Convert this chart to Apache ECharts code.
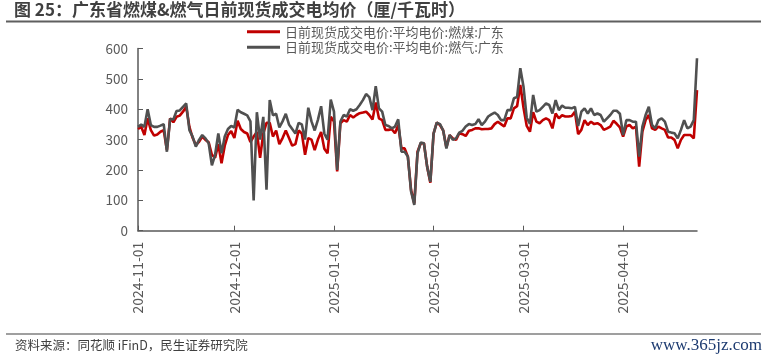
<!DOCTYPE html>
<html><head><meta charset="utf-8">
<script src="https://cdn.jsdelivr.net/npm/echarts@6/dist/echarts.min.js"></script>
<style>html,body{margin:0;padding:0;background:#fff}#c{width:766px;height:364px}</style>
</head><body><div id="c"></div><script>
// ---- data (厘/千瓦时), daily from 2024-11-01 ----
const seriesNames = ['日前现货成交电价:平均电价:燃煤:广东', '日前现货成交电价:平均电价:燃气:广东'];
const tickLabels = ['2024-11-01','2024-12-01','2025-01-01','2025-02-01','2025-03-01','2025-04-01'];

const coalNov = [335,342,315,370,331,313,317,326,331,266,370,357,375,379,392,408,342,306,282,293,310,299,291,250,240,285,222,280,315,328];
const coalDec = [305,362,335,325,320,292,310,325,240,320,355,355,310,330,285,305,330,305,280,285,330,320,250,305,300,265,300,325,270,255,375];
const coalJan = [360,195,354,364,359,381,373,381,387,389,392,381,366,422,370,364,332,332,334,321,348,271,271,244,134,90,260,288,288,211,158];
const coalFeb = [320,356,348,330,274,315,304,299,321,318,312,329,332,337,337,334,335,335,337,351,359,351,343,370,370,403,410,480];
const coalMar = [405,345,326,390,359,354,364,370,364,337,386,370,380,376,376,378,392,318,332,364,348,359,351,354,348,332,337,343,362,352,340];
const coalApr = [310,343,348,337,343,211,326,364,381,337,332,343,337,332,307,307,299,271,299,315,315,315,304,463];

const gasNov = [342,350,342,400,348,342,342,346,351,260,368,366,394,396,408,419,331,310,277,299,315,304,288,215,250,320,255,310,335,345];
const gasDec = [340,398,390,385,380,360,100,390,300,375,135,430,380,385,340,360,385,350,335,320,355,350,300,405,360,330,365,410,320,300,432];
const gasJan = [392,200,359,381,376,400,395,400,414,430,450,440,397,476,403,392,348,345,337,343,367,260,260,244,129,85,255,290,288,211,161];
const gasFeb = [320,356,351,330,271,315,299,304,323,329,343,351,348,351,367,348,359,376,383,389,381,364,364,397,397,436,440,535];
const gasMar = [474,372,352,447,392,397,408,419,414,386,430,397,412,405,405,403,408,345,392,403,386,403,381,386,381,359,370,381,395,395,385];
const gasApr = [315,364,364,359,359,244,343,381,408,348,337,364,370,359,326,323,321,304,332,364,337,343,364,568];

const coal = [].concat(coalNov, coalDec, coalJan, coalFeb, coalMar, coalApr);
const gas  = [].concat(gasNov, gasDec, gasJan, gasFeb, gasMar, gasApr);

function buildDates(n){
  const out = []; const d = new Date(Date.UTC(2024,10,1));
  for (let i=0;i<n;i++){ out.push(d.toISOString().slice(0,10)); d.setUTCDate(d.getUTCDate()+1); }
  return out;
}
const categories = buildDates(coal.length);

const FONT = '"Noto Sans CJK SC", "Noto Sans", sans-serif';
const GRAY = '#595959';
const chart = echarts.init(document.getElementById('c'), null, {renderer:'canvas'});
chart.setOption({
  animation: false,
  backgroundColor: '#fff',
  textStyle: {fontFamily: FONT},
  title: {
    text: '图 25：广东省燃煤&燃气日前现货成交电均价（厘/千瓦时）',
    left: 14, top: 1, padding: 0,
    textStyle: {fontSize: 17, fontWeight: 'bold', color: '#404040', fontFamily: FONT}
  },
  legend: {
    orient: 'vertical', left: 247, top: 24, padding: 0,
    itemWidth: 33, itemHeight: 3, itemGap: 0, icon: 'rect',
    textStyle: {fontSize: 13, color: GRAY, lineHeight: 15.5, fontFamily: FONT},
    data: seriesNames
  },
  grid: {left: 138, right: 69, top: 48.5, bottom: 133.3, containLabel: false},
  xAxis: {
    type: 'category', data: categories, boundaryGap: false,
    axisLine: {lineStyle: {color: GRAY, width: 1.5}},
    axisTick: {inside: true, length: 5, lineStyle: {color: GRAY, width: 1},
      interval: (i, v) => tickLabels.includes(v)},
    axisLabel: {rotate: 90, margin: 11, fontSize: 14, color: GRAY, fontFamily: FONT,
      interval: (i, v) => tickLabels.includes(v)},
    splitLine: {show: false}
  },
  yAxis: {
    type: 'value', min: 0, max: 600, interval: 100,
    axisLine: {show: true, lineStyle: {color: GRAY, width: 1.5}},
    axisTick: {show: true, inside: true, length: 5, lineStyle: {color: GRAY, width: 1}},
    axisLabel: {fontSize: 13.5, color: GRAY, margin: 10, fontFamily: FONT},
    splitLine: {show: false}
  },
  series: [
    {name: seriesNames[0], type: 'line', data: coal, symbol: 'none', showSymbol: false,
     color: '#C00000', lineStyle: {color: '#C00000', width: 2.6}},
    {name: seriesNames[1], type: 'line', data: gas, symbol: 'none', showSymbol: false,
     color: '#505050', lineStyle: {color: '#505050', width: 2.6}}
  ],
  graphic: [
    {type: 'line', shape: {x1: 6, y1: 21.5, x2: 761, y2: 21.5}, style: {stroke: '#5f5f5f', lineWidth: 2}},
    {type: 'line', shape: {x1: 6, y1: 334, x2: 761, y2: 334}, style: {stroke: '#7f7f7f', lineWidth: 1.5}},
    {type: 'text', left: 15, top: 339, style: {text: '资料来源：同花顺 iFinD，民生证券研究院', fontSize: 12.5, fill: '#404040', fontFamily: FONT}},
    {type: 'text', right: 4, top: 337, style: {text: 'www.365jz.com', fontSize: 17, fill: '#1c3a70', fontFamily: '"Liberation Serif", serif'}}
  ]
});
</script></body></html>
